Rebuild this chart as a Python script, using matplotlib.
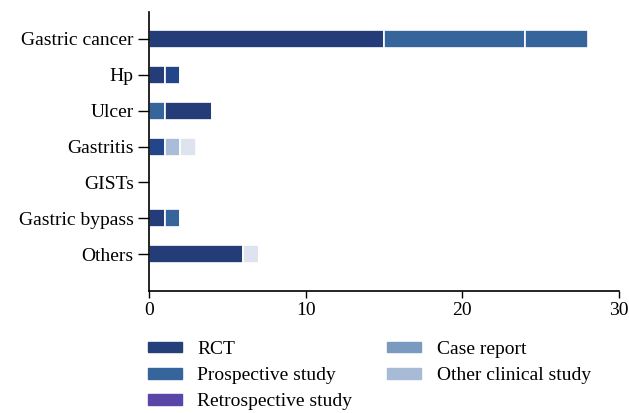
import matplotlib.pyplot as plt
from matplotlib.patches import Patch

plt.rcParams["font.family"] = ["Liberation Serif", "DejaVu Serif"]

categories = ["Gastric cancer", "Hp", "Ulcer", "Gastritis", "GISTs",
              "Gastric bypass", "Others"]
# stacked segments per category, left to right
seg1 = [15, 1, 1, 1, 0, 1, 6]
seg2 = [9, 1, 3, 1, 0, 1, 1]
seg3 = [4, 0, 0, 1, 0, 0, 0]

legend_labels = ["RCT", "Prospective study", "Retrospective study",
                 "Case report", "Other clinical study"]
legend_colors = ["#253f7a", "#35659a", "#5a45a8", "#7a9abf", "#a8bbd6"]

# fill colours of the drawn segments, as they appear in the figure
navy, blue, mid = "#243c78", "#35659a", "#23468a"
seg1_colors = [navy, navy, blue, mid, navy, navy, navy]
seg2_colors = [blue, mid, navy, "#a9bdd8", navy, blue, "#dde4f0"]
seg3_colors = [blue, navy, navy, "#dde4f0", navy, navy, navy]

fig = plt.figure(figsize=(6.29, 4.13), dpi=100)
ax = fig.add_axes([0.237, 0.295, 0.747, 0.676])

y = list(range(len(categories)))
left = [0] * len(categories)
for vals, cols in [(seg1, seg1_colors), (seg2, seg2_colors), (seg3, seg3_colors)]:
    ax.barh(y, vals, left=left, height=0.5, color=cols,
            edgecolor="white", linewidth=1.2)
    left = [l + v for l, v in zip(left, vals)]

ax.set_xlim(0, 30)
ax.set_ylim(len(categories) - 1 + 1.03, -0.75)
ax.set_xticks([0, 10, 20, 30])
ax.set_yticks(y)
ax.set_yticklabels(categories)
ax.tick_params(axis="y", length=8, width=1, labelsize=14, pad=3)
ax.tick_params(axis="x", length=5, width=1, labelsize=14, pad=3)
for s in ["top", "right"]:
    ax.spines[s].set_visible(False)
for s in ["left", "bottom"]:
    ax.spines[s].set_linewidth(1.2)

handles = [Patch(color=c, label=l) for c, l in zip(legend_colors, legend_labels)]
fig.legend(handles=handles, ncol=2, frameon=False, loc="upper left",
           bbox_to_anchor=(0.235, 0.174), fontsize=14,
           handlelength=1.75, handleheight=0.45, labelspacing=0.47,
           columnspacing=1.8, handletextpad=0.8, borderaxespad=0,
           borderpad=0)

fig.savefig("out.png", dpi=100)
